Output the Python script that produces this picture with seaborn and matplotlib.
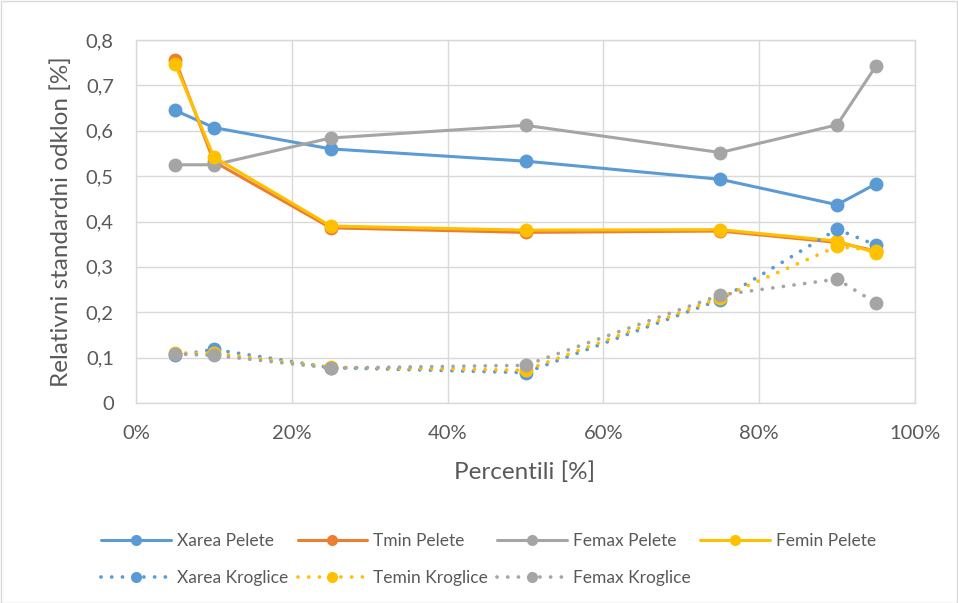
import matplotlib
matplotlib.use("Agg")
import matplotlib.pyplot as plt
from matplotlib.patches import Rectangle
from matplotlib.lines import Line2D
from matplotlib.ticker import FuncFormatter
import pandas as pd
import seaborn as sns

# Percentile positions (fraction) and relative standard deviations
percentiles = [0.05, 0.10, 0.25, 0.50, 0.75, 0.90, 0.95]

xarea_pelete = [0.645, 0.607, 0.560, 0.533, 0.493, 0.437, 0.483]
tmin_pelete = [0.757, 0.532, 0.386, 0.376, 0.379, 0.354, 0.335]
femax_pelete = [0.525, 0.525, 0.584, 0.612, 0.552, 0.613, 0.743]
femin_pelete = [0.748, 0.542, 0.390, 0.381, 0.382, 0.357, 0.331]

xarea_kroglice = [0.105, 0.118, 0.078, 0.067, 0.228, 0.383, 0.348]
temin_kroglice = [0.110, 0.110, 0.079, 0.072, 0.232, 0.345, 0.336]
femax_kroglice = [0.108, 0.105, 0.077, 0.083, 0.238, 0.273, 0.220]

y_ticks = [0, 0.1, 0.2, 0.3, 0.4, 0.5, 0.6, 0.7, 0.8]
x_ticks = [0, 0.2, 0.4, 0.6, 0.8, 1.0]

BLUE = "#5B9BD5"
ORANGE = "#ED7D31"
GRAY = "#A5A5A5"
YELLOW = "#FFC000"
TEXT = "#595959"
GRID = "#D9D9D9"

sns.set_style("white")
plt.rcParams["font.family"] = ["Lato", "DejaVu Sans"]

fig = plt.figure(figsize=(9.58, 6.03), dpi=100)
ax = fig.add_axes([136 / 958, 1 - 403 / 603, (915 - 136) / 958, (403 - 40) / 603])

solid_series = [
    ("Xarea Pelete", xarea_pelete, BLUE),
    ("Tmin Pelete", tmin_pelete, ORANGE),
    ("Femax Pelete", femax_pelete, GRAY),
    ("Femin Pelete", femin_pelete, YELLOW),
]
dotted_series = [
    ("Xarea Kroglice", xarea_kroglice, BLUE),
    ("Temin Kroglice", temin_kroglice, YELLOW),
    ("Femax Kroglice", femax_kroglice, GRAY),
]

LW = 2.2
DLW = 2.7
MS = 10
DOT = (0, (0.01, 2.85))

z = 3
for name, vals, col in solid_series:
    df = pd.DataFrame({"p": percentiles, "v": vals})
    sns.lineplot(data=df, x="p", y="v", ax=ax, color=col, linewidth=LW,
                 marker="o", markersize=MS, markeredgewidth=0, zorder=z)
    z += 1

for name, vals, col in dotted_series:
    df = pd.DataFrame({"p": percentiles, "v": vals})
    sns.lineplot(data=df, x="p", y="v", ax=ax, color=col, linewidth=DLW,
                 linestyle=DOT, dash_capstyle="round",
                 marker="o", markersize=MS, markeredgewidth=0, zorder=z)
    z += 1

ax.set_xlim(0, 1)
ax.set_ylim(0, 0.8)
ax.set_xticks(x_ticks)
ax.set_yticks(y_ticks)
ax.xaxis.set_major_formatter(FuncFormatter(lambda v, _: f"{v * 100:.0f}%"))
ax.yaxis.set_major_formatter(
    FuncFormatter(lambda v, _: "0" if abs(v) < 1e-9 else f"{v:.1f}".replace(".", ",")))
ax.grid(True, color=GRID, linewidth=1)
ax.set_axisbelow(True)
for sp in ax.spines.values():
    sp.set_color(GRID)
    sp.set_linewidth(1)
ax.tick_params(axis="both", length=0, labelsize=14.5, colors=TEXT, pad=16)

ax.set_xlabel("Percentili [%]", fontsize=17.5, color=TEXT, va="center")
ax.set_ylabel("Relativni standardni odklon [%]", fontsize=17.5, color=TEXT,
              va="center", rotation_mode="anchor")
ax.xaxis.set_label_coords(0.4987, (403 - 472) / 363)
ax.yaxis.set_label_coords((61 - 136) / 779, 0.5)

# Legend: four columns, filled row by row
def solid_handle(col):
    return Line2D([], [], color=col, linewidth=LW, marker="o", markersize=MS * 0.8,
                  markeredgewidth=0)


def dotted_handle(col):
    return Line2D([], [], color=col, linewidth=DLW, linestyle=DOT, dash_capstyle="round",
                  marker="o", markersize=MS * 0.8, markeredgewidth=0)


handles = [
    solid_handle(BLUE), dotted_handle(BLUE),
    solid_handle(ORANGE), dotted_handle(YELLOW),
    solid_handle(GRAY), dotted_handle(GRAY),
    solid_handle(YELLOW),
]
labels = [
    "Xarea Pelete", "Xarea Kroglice",
    "Tmin Pelete", "Temin Kroglice",
    "Femax Pelete", "Femax Kroglice",
    "Femin Pelete",
]
leg = fig.legend(handles, labels, loc="center", bbox_to_anchor=(0.510, 0.072), ncol=4,
                 frameon=False, fontsize=12.5, handlelength=4, handletextpad=0.35,
                 columnspacing=0.55, labelspacing=1.2, numpoints=1)
for t in leg.get_texts():
    t.set_color(TEXT)

fig.add_artist(Rectangle((0.5 / 958, 0.5 / 603), 1 - 1.5 / 958, 1 - 1.5 / 603,
                         transform=fig.transFigure, fill=False, edgecolor=GRID, linewidth=1))

fig.savefig("out.png", dpi=100)
